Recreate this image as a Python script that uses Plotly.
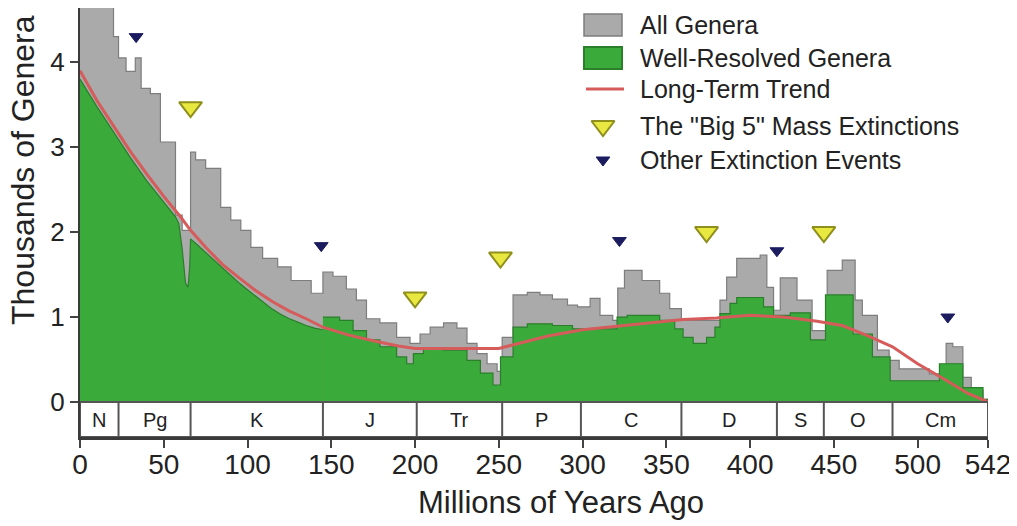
import plotly.graph_objects as go

# ---------------- data ----------------
# All genera: step function, value holds from each x until the next x (Myr ago, thousands)
gray_x = [0, 12, 20, 23, 27.5, 33, 36.5, 42, 48, 57, 61, 66, 69, 75, 84, 90, 96, 102, 109, 118,
          126, 138, 145, 151, 159, 165, 171, 179, 189, 197, 203, 209, 217, 225, 231, 237, 243, 249,
          252, 258.5, 267, 274.6, 282, 291, 297, 304.5, 310.4, 318, 321, 325, 335.5, 346, 352, 359,
          382, 386, 392, 406, 410, 414, 418, 428, 437, 446, 455, 462.7, 467, 476, 483, 489, 507,
          517, 521, 527, 532, 539, 542]
gray_y = [5.0, 4.75, 4.3, 4.05, 3.89, 4.05, 3.69, 3.63, 3.06, 2.2, 2.02, 2.94, 2.85, 2.75, 2.29,
          2.14, 2.02, 1.82, 1.69, 1.59, 1.43, 1.28, 1.53, 1.48, 1.33, 1.20, 0.98, 0.93, 0.76, 0.69,
          0.80, 0.88, 0.93, 0.87, 0.69, 0.57, 0.45, 0.36, 0.76, 1.26, 1.29, 1.26, 1.21, 1.14, 1.12,
          1.22, 1.02, 0.96, 1.34, 1.55, 1.43, 1.28, 1.10, 0.96, 1.2, 1.47, 1.69, 1.73, 1.35, 1.08,
          1.46, 1.2, 0.84, 1.55, 1.67, 1.2, 1.02, 0.61, 0.49, 0.39, 0.33, 0.69, 0.65, 0.29, 0.14,
          0.03, 0.03]

# Well-resolved genera, Cenozoic/Cretaceous part (smooth-looking)
green_early_x = [0, 10, 20, 30, 40, 50, 57, 59, 61, 63, 64.5, 65.5, 66, 70, 75, 80, 85, 90, 95,
                 100, 105, 110, 115, 120, 125, 130, 135, 140, 145]
green_early_y = [3.8, 3.48, 3.18, 2.88, 2.6, 2.35, 2.18, 2.1, 1.8, 1.4, 1.35, 1.6, 1.92, 1.85,
                 1.76, 1.66, 1.57, 1.48, 1.4, 1.32, 1.24, 1.16, 1.09, 1.03, 0.98, 0.94, 0.9,
                 0.87, 0.85]
# Well-resolved genera, older part (step function)
green_late_x = [145, 155, 163, 171, 179, 189, 195, 199, 205, 217, 231, 239, 246.5, 251, 258.5,
                267, 282, 294, 320.6, 326.6, 346, 355, 360, 366, 374, 379, 382, 388, 392, 408,
                414, 424, 436, 445, 461.5, 473, 483.6, 513, 527, 539, 542]
green_late_y = [1.0, 0.96, 0.84, 0.73, 0.65, 0.53, 0.45, 0.57, 0.63, 0.61, 0.49, 0.34, 0.2, 0.53,
                0.88, 0.92, 0.90, 0.86, 1.0, 1.02, 0.96, 0.86, 0.76, 0.69, 0.76, 0.88, 1.04, 1.16,
                1.23, 1.12, 1.02, 1.05, 0.73, 1.26, 0.8, 0.53, 0.25, 0.45, 0.17, 0.03, 0.03]

# Long-term trend
trend_x = [0, 10, 20, 30, 40, 50, 60, 66, 75, 85, 95, 105, 115, 125, 135, 145, 160, 175, 190,
           200, 225, 250, 260, 280, 300, 320, 340, 360, 380, 400, 420, 440, 455, 470, 485, 500,
           515, 530, 542]
trend_y = [3.9, 3.55, 3.25, 2.95, 2.68, 2.42, 2.18, 2.02, 1.82, 1.62, 1.46, 1.31, 1.18, 1.07,
           0.98, 0.88, 0.79, 0.72, 0.66, 0.63, 0.63, 0.63, 0.68, 0.78, 0.85, 0.89, 0.93, 0.97,
           0.99, 1.02, 1.0, 0.95, 0.9, 0.78, 0.65, 0.45, 0.28, 0.1, 0.0]

# Extinction markers
big5_x = [66, 200, 251, 374, 444]
big5_y = [3.47, 1.23, 1.70, 2.0, 2.0]
other_x = [33.5, 144, 322, 416, 518]
other_y = [4.3, 1.84, 1.9, 1.78, 1.0]

# Geological periods
period_names = ["N", "Pg", "K", "J", "Tr", "P", "C", "D", "S", "O", "Cm"]
period_bounds = [0, 23, 66, 145, 201, 252, 299, 359, 416, 444, 485, 542]

x_tickvals = [0, 50, 100, 150, 200, 250, 300, 350, 400, 450, 500, 542]
y_tickvals = [0, 1, 2, 3, 4]

legend_labels = ["All Genera", "Well-Resolved Genera", "Long-Term Trend",
                 'The "Big 5" Mass Extinctions', "Other Extinction Events"]

# ---------------- styles / geometry ----------------
# The page body has an 8px margin, so the figure is drawn 8px right/down of the window corner.
FONT = "Liberation Sans, Arial, sans-serif"
TXT = "#222222"
GRAY_FILL = "#aaaaaa"
GRAY_LINE = "#7d7d7d"
GREEN_FILL = "#3aaa3a"
GREEN_LINE = "#2a7f2a"
RED = "#d65c5c"
YELLOW = "#e8e840"
YELLOW_EDGE = "#8f8f1e"
NAVY = "#1b1b60"
BAR_BOTTOM = -0.412
Y_TOP = 4.637

# screen-pixel frame of the plotting area (used only for legend / titles placement)
PX_L, PX_R, PX_T, PX_B = 80, 988, 8, 437


def paper_x(px):
    return (px - PX_L) / (PX_R - PX_L)


def paper_y(py):
    return 1 - (py - PX_T) / (PX_B - PX_T)


fig = go.Figure()

fig.add_trace(go.Scatter(x=gray_x, y=gray_y, mode="lines",
                         line=dict(shape="hv", color=GRAY_LINE, width=1.2),
                         fill="tozeroy", fillcolor=GRAY_FILL, hoverinfo="skip"))
fig.add_trace(go.Scatter(x=green_early_x, y=green_early_y, mode="lines",
                         line=dict(shape="linear", color=GREEN_LINE, width=1.2),
                         fill="tozeroy", fillcolor=GREEN_FILL, hoverinfo="skip"))
fig.add_trace(go.Scatter(x=green_late_x, y=green_late_y, mode="lines",
                         line=dict(shape="hv", color=GREEN_LINE, width=1.2),
                         fill="tozeroy", fillcolor=GREEN_FILL, hoverinfo="skip"))
fig.add_trace(go.Scatter(x=trend_x, y=trend_y, mode="lines",
                         line=dict(color=RED, width=3)))
fig.add_trace(go.Scatter(x=big5_x, y=big5_y, mode="markers",
                         marker=dict(symbol="triangle-down", size=20, color=YELLOW,
                                     line=dict(color=YELLOW_EDGE, width=2))))
fig.add_trace(go.Scatter(x=other_x, y=other_y, mode="markers",
                         marker=dict(symbol="triangle-down", size=12, color=NAVY,
                                     line=dict(color=NAVY, width=1))))

# ---- period bar ----
shapes = [dict(type="rect", xref="x", yref="y", x0=period_bounds[0], x1=period_bounds[-1],
               y0=BAR_BOTTOM, y1=0, fillcolor="white", line=dict(color="#555555", width=2),
               layer="above")]
for b in period_bounds[1:-1]:
    shapes.append(dict(type="line", xref="x", yref="y", x0=b, x1=b, y0=BAR_BOTTOM, y1=0,
                       line=dict(color="#555555", width=2)))
annotations = []
for name, a, b in zip(period_names, period_bounds[:-1], period_bounds[1:]):
    annotations.append(dict(x=(a + b) / 2, y=BAR_BOTTOM / 2, xref="x", yref="y", text=name,
                            showarrow=False, font=dict(family=FONT, size=20, color=TXT),
                            xanchor="center", yanchor="middle"))

# ---- axis titles ----
annotations.append(dict(x=paper_x(23), y=paper_y(170), xref="paper", yref="paper",
                        text="Thousands of Genera", textangle=-90, showarrow=False,
                        xanchor="center", yanchor="middle",
                        font=dict(family=FONT, size=32, color=TXT)))
annotations.append(dict(x=paper_x(561), y=paper_y(503), xref="paper", yref="paper",
                        text="Millions of Years Ago", showarrow=False,
                        xanchor="center", yanchor="middle",
                        font=dict(family=FONT, size=31, color=TXT)))

# ---- manual legend (pixel overlay axes x2/y2) ----
leg_sym_x = 603
leg_text_x = 638
leg_rows = [25, 58, 89, 126, 160]
shapes.append(dict(type="rect", xref="x2", yref="y2", x0=leg_sym_x - 19, x1=leg_sym_x + 19,
                   y0=leg_rows[0] - 11, y1=leg_rows[0] + 11, fillcolor=GRAY_FILL,
                   line=dict(color=GRAY_LINE, width=1.5)))
shapes.append(dict(type="rect", xref="x2", yref="y2", x0=leg_sym_x - 19, x1=leg_sym_x + 19,
                   y0=leg_rows[1] - 11, y1=leg_rows[1] + 11, fillcolor=GREEN_FILL,
                   line=dict(color=GREEN_LINE, width=2)))
shapes.append(dict(type="line", xref="x2", yref="y2", x0=leg_sym_x - 17, x1=leg_sym_x + 21,
                   y0=leg_rows[2], y1=leg_rows[2], line=dict(color=RED, width=3)))
fig.add_trace(go.Scatter(x=[leg_sym_x], y=[leg_rows[3]], xaxis="x2", yaxis="y2", mode="markers",
                         marker=dict(symbol="triangle-down", size=20, color=YELLOW,
                                     line=dict(color=YELLOW_EDGE, width=2)), hoverinfo="skip"))
fig.add_trace(go.Scatter(x=[leg_sym_x], y=[leg_rows[4]], xaxis="x2", yaxis="y2", mode="markers",
                         marker=dict(symbol="triangle-down", size=12, color=NAVY,
                                     line=dict(color=NAVY, width=1)), hoverinfo="skip"))
for label, row in zip(legend_labels, leg_rows):
    annotations.append(dict(x=paper_x(leg_text_x), y=paper_y(row), xref="paper", yref="paper",
                            text=label, showarrow=False, xanchor="left", yanchor="middle",
                            font=dict(family=FONT, size=25, color=TXT)))

FIG_W, FIG_H = 1017 - 8, 526 - 8
fig.update_layout(
    width=FIG_W, height=FIG_H,
    margin=dict(l=PX_L - 8, r=FIG_W - (PX_R - 8), t=PX_T - 8, b=FIG_H - (PX_B - 8),
                autoexpand=False),
    paper_bgcolor="white", plot_bgcolor="white",
    showlegend=False,
    xaxis=dict(range=[0, 542], tickvals=x_tickvals, ticktext=[str(v) for v in x_tickvals],
               ticks="outside", ticklen=8, tickwidth=1.5, tickcolor="#444444",
               ticklabelstandoff=-8,
               showline=True, linecolor="#3a3a3a", linewidth=3,
               showgrid=False, zeroline=False,
               tickfont=dict(family=FONT, size=28, color=TXT)),
    yaxis=dict(range=[BAR_BOTTOM, Y_TOP], tickvals=y_tickvals,
               ticks="outside", ticklen=8, tickwidth=1.5, tickcolor="#444444",
               showline=True, linecolor="#3a3a3a", linewidth=2,
               showgrid=False, zeroline=False,
               tickfont=dict(family=FONT, size=26, color=TXT)),
    xaxis2=dict(range=[PX_L, PX_R], overlaying="x", anchor="y2", visible=False),
    yaxis2=dict(range=[PX_B, PX_T], overlaying="y", anchor="x2", visible=False),
    shapes=shapes,
    annotations=annotations,
)

fig.write_html("out.html")
